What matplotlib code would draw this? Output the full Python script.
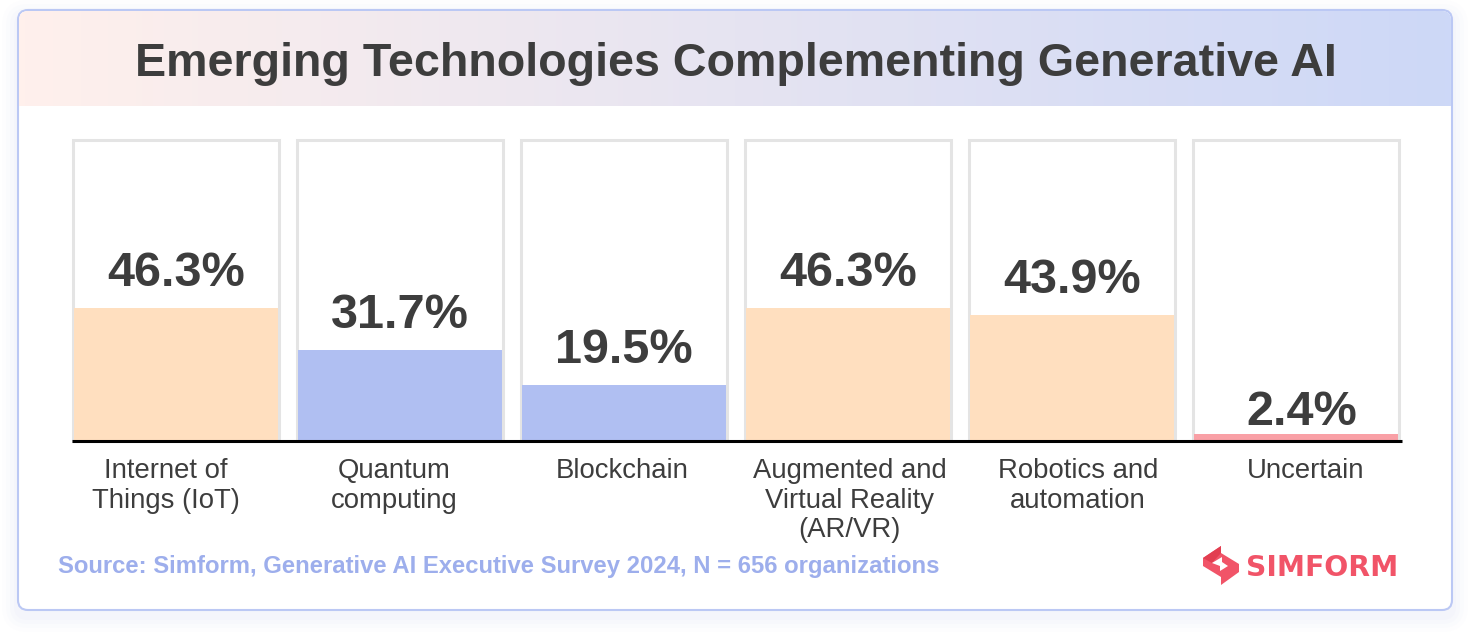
import matplotlib
matplotlib.use("Agg")
import matplotlib.pyplot as plt
import numpy as np
from matplotlib.patches import FancyBboxPatch, Polygon

plt.rcParams["font.family"] = ["Liberation Sans", "DejaVu Sans"]

W, H = 1469, 635

title = "Emerging Technologies Complementing Generative AI"
source = "Source: Simform, Generative AI Executive Survey 2024, N = 656 organizations"
categories = ["Internet of\nThings (IoT)", "Quantum\ncomputing", "Blockchain",
              "Augmented and\nVirtual Reality\n(AR/VR)", "Robotics and\nautomation", "Uncertain"]
values = [46.3, 31.7, 19.5, 46.3, 43.9, 2.4]
bar_colors = ["#FFDFBF", "#B0BFF2", "#B0BFF2", "#FFDFBF", "#FFDFBF", "#F9A0A6"]
text_color = "#3D3D3D"


def px_box(x0, y0, x1, y1):
    return [x0 / W, 1 - y1 / H, (x1 - x0) / W, (y1 - y0) / H]


fig = plt.figure(figsize=(W / 100, H / 100), dpi=100, facecolor="white")

# card background in pixel coordinates
bg = fig.add_axes([0, 0, 1, 1])
bg.set_xlim(0, W)
bg.set_ylim(H, 0)
bg.axis("off")

# soft shadow
for grow, alpha in zip([16, 12, 8, 4], [0.03, 0.04, 0.05, 0.06]):
    bg.add_patch(FancyBboxPatch((18 - grow, 10 - grow + 6), 1434 + 2 * grow, 600 + 2 * grow,
                                boxstyle="round,pad=0,rounding_size=%d" % (10 + grow),
                                fc="#C5D0F5", ec="none", alpha=alpha))

card = FancyBboxPatch((18, 10), 1434, 600, boxstyle="round,pad=0,rounding_size=10",
                      fc="white", ec="#BBC8F4", lw=1.5, zorder=3)
bg.add_patch(card)

# header gradient
grad = np.linspace(0, 1, 256).reshape(1, -1, 1)
left = np.array([255, 240, 236]) / 255
right = np.array([205, 216, 247]) / 255
img = bg.imshow(left + (right - left) * grad, extent=[19, 1451, 106, 11], aspect="auto", zorder=4)
clip = FancyBboxPatch((19, 11), 1432, 120, boxstyle="round,pad=0,rounding_size=9",
                      fc="none", ec="none", transform=bg.transData)
bg.add_patch(clip)
img.set_clip_path(clip)
bg.set_xlim(0, W)
bg.set_ylim(H, 0)

bg.text(736, 64, title, fontsize=33.6, fontweight="bold", color=text_color,
        ha="center", va="center", zorder=5)
bg.text(58, 567, source, fontsize=17.2, fontweight="bold", color="#9DAEEC",
        ha="left", va="center", zorder=5)

# logo
bg.add_patch(Polygon([(1203, 558), (1221, 546), (1221, 553), (1239, 564), (1239, 572),
                      (1221, 585), (1221, 577), (1203, 566)],
                     fc="#F15468", ec="none", zorder=5))
bg.add_patch(Polygon([(1203, 558), (1221, 546), (1221, 553), (1212, 563)],
                     fc="#E23E50", ec="none", zorder=5))
bg.add_patch(Polygon([(1212, 563), (1222, 557), (1222, 562), (1228, 566), (1220, 571), (1220, 566)],
                     fc="white", ec="none", zorder=6))
bg.text(1246, 567.5, "SIMFORM", fontsize=20.3, fontweight="bold", color="#F15468",
        family=["DejaVu Sans"], ha="left", va="center", zorder=5)

# chart
ax = fig.add_axes(px_box(72, 140, 1402, 441), facecolor="none", zorder=2)
x = np.arange(len(values))
y_top = 104.5
ax.bar(x, [y_top] * len(values), width=0.92, fc="none", ec="#E4E4E4", lw=2.2, clip_on=False)
ax.bar(x, values, width=0.91, color=bar_colors)
ax.axhline(0, color="black", lw=2.2, zorder=5, clip_on=False, solid_capstyle="butt")

for xi, v in zip(x, values):
    dx, gap = (4, 6.7) if v < 5 else (0, 15.4)
    ax.annotate("%.1f%%" % v, (xi, v), xytext=(dx, gap), textcoords="offset points",
                ha="center", va="baseline", fontsize=35, fontweight="bold", color=text_color)

ax.set_xlim(-0.464, 5.473)
ax.set_ylim(0, y_top)
ax.set_yticks([])
# labels run on a slightly wider spacing than the bars
ax.set_xticks(x * 228 / 224 - 0.045)
ax.set_xticklabels(categories, fontsize=19.8, color=text_color, linespacing=1.17)
ax.tick_params(axis="x", length=0, pad=12.5)
for s in ax.spines.values():
    s.set_visible(False)

fig.savefig("out.png", dpi=100)
